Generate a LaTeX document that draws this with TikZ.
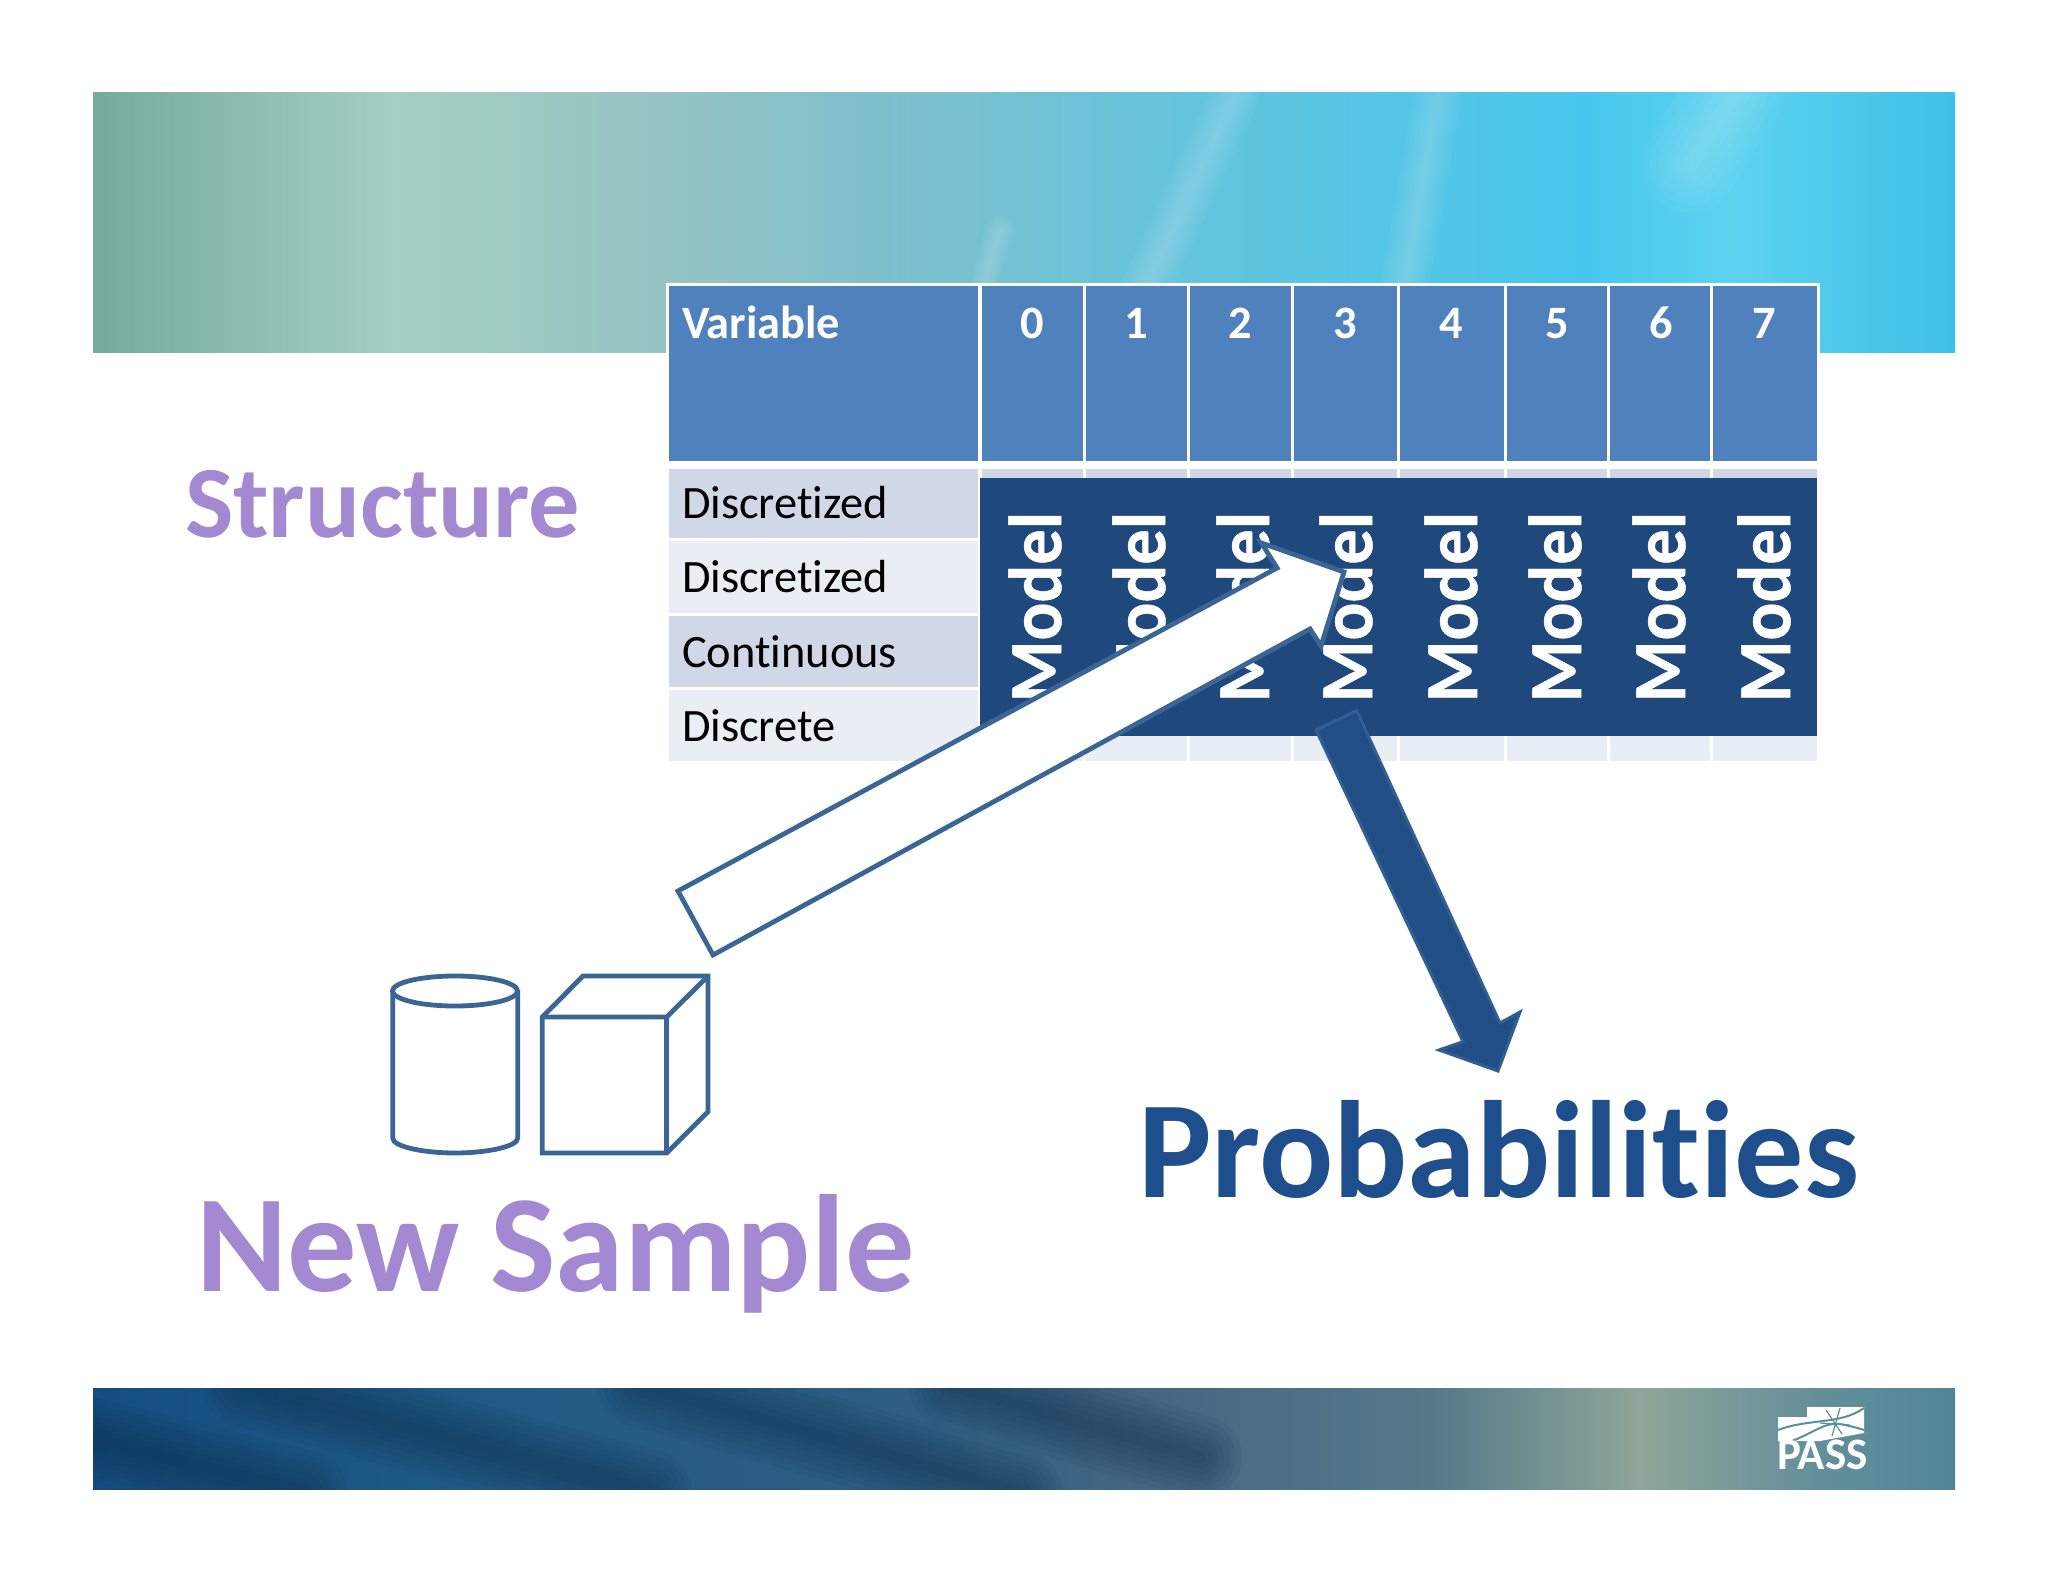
\documentclass[tikz,border=0pt]{standalone}
\usepackage{fontspec}
\setmainfont[Ligatures=NoCommon]{Carlito}
\usetikzlibrary{fadings}
\definecolor{headblue}{HTML}{4F81BD}
\definecolor{rowa}{HTML}{D0D8E8}
\definecolor{rowb}{HTML}{E9EDF4}
\definecolor{navy}{HTML}{1F497D}
\definecolor{edgeblue}{HTML}{3A6595}
\definecolor{arrowfill}{HTML}{214F85}
\definecolor{arrowedge}{HTML}{315F94}
\definecolor{lilac}{HTML}{A388D2}
\definecolor{probblue}{HTML}{1F4E8C}
\definecolor{logoband}{HTML}{5D8F96}
\definecolor{darkband}{HTML}{0F2F4C}
\pgfdeclarehorizontalshading{topband}{100bp}{
 rgb(0bp)=(.46,.67,.61);
 rgb(25bp)=(.46,.67,.61);
 rgb(33bp)=(.64,.81,.76);
 rgb(40bp)=(.59,.77,.76);
 rgb(46bp)=(.50,.75,.80);
 rgb(55bp)=(.384,.773,.867);
 rgb(65bp)=(.282,.78,.933);
 rgb(69bp)=(.361,.827,.937);
 rgb(75bp)=(.243,.753,.91);
 rgb(100bp)=(.243,.753,.91)}
\pgfdeclarehorizontalshading{botband}{100bp}{
 rgb(0bp)=(.078,.302,.498);
 rgb(25bp)=(.078,.302,.498);
 rgb(35bp)=(.122,.353,.522);
 rgb(47bp)=(.184,.369,.51);
 rgb(53bp)=(.26,.40,.51);
 rgb(61bp)=(.33,.48,.54);
 rgb(66.5bp)=(.557,.651,.596);
 rgb(71bp)=(.4,.565,.604);
 rgb(75bp)=(.31,.522,.596);
 rgb(100bp)=(.31,.522,.596)}
\tikzset{
 x=0.5pt,y=-0.5pt,
 every node/.style={inner sep=0pt,outer sep=0pt},
 headcell/.style={fill=headblue},
 headtxt/.style={text=white,font=\fontsize{23.2}{26}\selectfont\bfseries,anchor=base},
 rowtxt/.style={text=black,font=\fontsize{23.2}{26}\selectfont,anchor=base west},
 modeltxt/.style={text=white,font=\fontsize{37.5}{40}\selectfont\bfseries\addfontfeature{FakeBold=0.6},rotate=90},
 bigtxt/.style={font=\fontsize{69.2}{76}\selectfont\bfseries,anchor=base west},
 shapeline/.style={draw=edgeblue,line width=2.4pt,line join=miter,fill=white},
 darkstreak/.style={line cap=round,draw=darkband,opacity=.08},
 lightstreak/.style={line cap=round,draw=white,opacity=.035}
}
\begin{document}
\begin{tikzpicture}
\useasboundingbox (0,0) rectangle (2048,1582);
\fill[white] (0,0) rectangle (2048,1582);
% top banner
\begin{scope}
\clip (93,93) rectangle (1955,353);
\shade[shading=topband] (93,93) rectangle (1955,353);
\foreach \w in {4,8,12,16,20,24}{
 \draw[lightstreak,line width=\w] (1235,95) -- (1140,300);
 \draw[lightstreak,line width=\w] (1438,95) -- (1402,300);
 \draw[lightstreak,line width=\w*2] (1736,90) -- (1690,165);
 \draw[lightstreak,line width=\w*.6] (1000,230) -- (970,330);
}
\end{scope}
% bottom banner
\begin{scope}
\clip (93,1388) rectangle (1955,1489);
\shade[shading=botband] (93,1388) rectangle (1955,1489);
\foreach \w in {6,12,18,24,30,36,42}{
 \draw[darkstreak,line width=\w] (245,1385) -- (650,1492);
 \draw[darkstreak,line width=\w] (80,1437) -- (305,1492);
 \draw[darkstreak,line width=\w] (640,1385) -- (1020,1492);
 \draw[darkstreak,line width=\w] (950,1385) -- (1200,1457);
}
\end{scope}
% table
\fill[white] (666,283) rectangle (1820,765);
\fill[headcell] (669,286) rectangle (978,461);
\fill[headcell] (982,286) rectangle (1083,461);
\fill[headcell] (1086,286) rectangle (1187,461);
\fill[headcell] (1190,286) rectangle (1291,461);
\fill[headcell] (1294,286) rectangle (1397,461);
\fill[headcell] (1400,286) rectangle (1504,461);
\fill[headcell] (1507,286) rectangle (1607,461);
\fill[headcell] (1610,286) rectangle (1710,461);
\fill[headcell] (1713,286) rectangle (1817,461);
\fill[rowa] (669,469) rectangle (978,538);
\fill[rowb] (669,541) rectangle (978,613);
\fill[rowa] (669,616) rectangle (978,687);
\fill[rowb] (669,690) rectangle (978,761);
\foreach \l/\r in {982/1083,1086/1187,1190/1291,1294/1397,1400/1504,1507/1607,1610/1710,1713/1817}{
 \fill[rowa] (\l,469) rectangle (\r,480);
 \fill[rowb] (\l,736) rectangle (\r,761);
}
\node[headtxt,anchor=base west] (hvar) at (682,338.5) {Variable};
\node[headtxt] (h0) at (1032,338.5) {0};
\node[headtxt] (h1) at (1136.5,338.5) {1};
\node[headtxt] (h2) at (1240,338.5) {2};
\node[headtxt] (h3) at (1345.5,338.5) {3};
\node[headtxt] (h4) at (1451.5,338.5) {4};
\node[headtxt] (h5) at (1557,338.5) {5};
\node[headtxt] (h6) at (1661,338.5) {6};
\node[headtxt] (h7) at (1764,338.5) {7};
\node[rowtxt] (r1) at (682,518.5) {Discretized};
\node[rowtxt] (r2) at (682,593) {Discretized};
\node[rowtxt] (r3) at (682,667.5) {Continuous};
\node[rowtxt] (r4) at (682,741.5) {Discrete};
% model block
\fill[navy] (980,478) rectangle (1817,736);
\node[modeltxt] (m0) at (1035,607) {\scalebox{.94}[1]{Model}};
\node[modeltxt] (m1) at (1139,607) {\scalebox{.94}[1]{Model}};
\node[modeltxt] (m2) at (1243,607) {\scalebox{.94}[1]{Model}};
\node[modeltxt] (m3) at (1346,607) {\scalebox{.94}[1]{Model}};
\node[modeltxt] (m4) at (1451,607) {\scalebox{.94}[1]{Model}};
\node[modeltxt] (m5) at (1555,607) {\scalebox{.94}[1]{Model}};
\node[modeltxt] (m6) at (1659,607) {\scalebox{.94}[1]{Model}};
\node[modeltxt] (m7) at (1764,607) {\scalebox{.94}[1]{Model}};
% arrows
\draw[shapeline] (678,891) -- (1277,568) -- (1261.5,543) -- (1344,572) -- (1321,646) -- (1310,629) -- (713,955) -- cycle;
\draw[draw=arrowedge,line width=1.5pt,fill=arrowfill,line join=miter]
 (1316,730) -- (1356.7,710.7) -- (1500,1023) -- (1520,1012) -- (1498,1071) -- (1439,1050) -- (1463,1041.7) -- cycle;
% cylinder
\draw[shapeline] (392.7,991) -- (392.7,1138) .. controls (392.7,1147) and (425,1153) .. (455,1153) .. controls (485,1153) and (517.7,1147) .. (517.7,1138) -- (517.7,991);
\draw[shapeline] (455,991) ellipse [x radius=62.5,y radius=15];
% cube
\draw[shapeline] (542.3,1017) -- (583,976) -- (708,976) -- (708,1111.7) -- (666.7,1153) -- (542.3,1153) -- cycle;
\draw[shapeline,fill=none] (542.3,1017) -- (666.7,1017) -- (708,976);
\draw[shapeline,fill=none] (666.7,1017) -- (666.7,1153);
% labels
\node[bigtxt,text=lilac,font=\fontsize{51.2}{60}\selectfont\bfseries] (struct) at (185,538) {Structure};
\node[bigtxt,text=lilac] (newsample) at (196,1291) {New Sample};
\node[bigtxt,text=probblue] (prob) at (1138,1197) {Probabilities};
% logo
\fill[white] (1778,1417) -- (1807,1417) -- (1807,1407) -- (1864,1407) -- (1864,1433) -- (1820,1441) -- (1778,1441) -- cycle;
\draw[logoband,line width=1pt] (1778,1430) .. controls (1810,1418) and (1840,1425) .. (1864,1408);
\draw[logoband,line width=1pt] (1792,1441) .. controls (1815,1432) and (1825,1422) .. (1840,1424) .. controls (1850,1426) and (1858,1428) .. (1864,1430);
\draw[logoband,line width=.6pt] (1826,1410) -- (1842,1434) (1840,1408) -- (1832,1436) (1820,1423) -- (1850,1425);
\node[text=white,font=\fontsize{22.5}{24}\selectfont\bfseries,anchor=base west] (pass) at (1777,1469) {PASS};
\end{tikzpicture}
\end{document}
